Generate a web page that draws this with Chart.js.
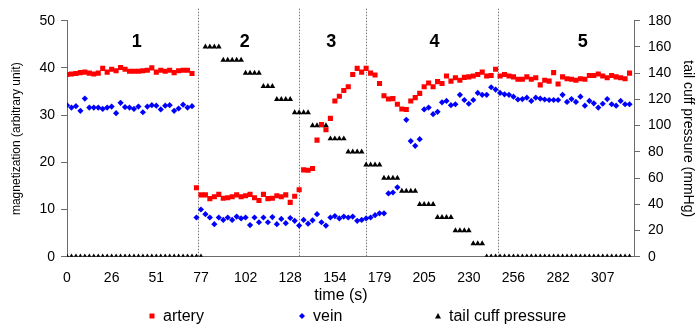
<!DOCTYPE html>
<html>
<head>
<meta charset="utf-8">
<script src="https://cdn.jsdelivr.net/npm/chart.js@4"></script>
<style>
    html, body { margin: 0; padding: 0; background: #fff; }
    #wrap { width: 695px; height: 326px; }
</style>
</head>
<body>
<div id="wrap"><canvas id="chart" width="695" height="326"></canvas></div>
<script>
"use strict"

// Tick labels on the time axis (one label every 10 samples)
const timeTickLabels = ["0", "26", "51", "77", "102", "128", "154", "179", "205", "230", "256", "282", "307"];

// Magnetization of the artery (arbitrary unit), one value per sample
const artery = [
    38.6, 38.7, 38.8, 39.0, 39.1, 38.9, 38.7, 38.9, 39.9, 39.1,
    39.7, 39.4, 40.1, 39.7, 39.3, 39.3, 39.3, 39.4, 39.5, 40.0,
    39.1, 39.5, 39.3, 39.5, 39.0, 39.4, 39.5, 39.5, 38.8,
    14.6, 13.1, 13.1, 12.3, 12.7, 13.2, 12.4, 12.5, 12.7, 13.1,
    12.7, 12.9, 13.2, 12.5, 11.9, 13.2, 12.3, 12.4, 12.9, 12.7,
    13.1, 11.5, 12.8, 14.2,
    18.4, 18.3, 18.7,
    24.7, 28.0, 26.9, 29.3, 33.0, 34.0, 35.2, 36.0, 38.6, 39.9,
    39.1, 39.9, 38.9, 38.5, 36.7, 34.1, 33.4, 33.5, 32.3, 31.3,
    31.2, 33.0, 33.7, 34.6, 36.0, 36.8, 36.0, 37.1, 36.7,
    38.3, 37.2, 37.9, 37.4, 38.0, 38.1, 38.3, 38.6, 39.1, 38.3,
    38.4, 39.7, 38.3, 38.6, 38.3, 38.1, 37.6, 37.6, 38.1, 37.6,
    37.9, 36.4, 37.4, 37.2, 39.0, 36.6, 38.1, 37.7, 37.6, 37.4,
    37.7, 37.6, 38.4, 38.4, 38.7, 38.3, 37.9, 38.4, 38.1, 37.9,
    37.7, 38.9
];

// Magnetization of the vein (arbitrary unit)
const vein = [
    32.1, 31.6, 31.9, 30.9, 33.5, 31.6, 31.6, 31.6, 31.3, 31.6,
    31.8, 30.4, 32.6, 31.7, 31.6, 31.3, 31.8, 30.6, 31.8, 32.1,
    32.0, 31.2, 32.0, 32.1, 30.9, 31.4, 32.2, 31.6, 31.9,
    8.3, 10.0, 9.0, 8.3, 6.9, 8.3, 7.8, 8.3, 7.8, 8.5,
    8.1, 8.3,
    6.7, 8.3, 7.3, 8.3, 7.3, 8.4, 6.9, 8.0, 7.1, 8.2,
    7.6, 6.6, 7.8, 7.0, 7.7, 9.0, 7.3, 6.6, 8.3, 8.6,
    8.1, 8.5, 8.3, 8.5, 7.6, 7.8, 8.1, 8.3, 8.8, 9.2,
    9.2, 13.4, 13.6, 14.7,
    null,
    29.0, 24.5, 23.5, 24.9, 31.2, 31.6, 30.2, 30.7,
    32.7, 33.0, 32.1, 32.3, 34.3, 33.2, 32.4, 33.2, 34.7, 34.3,
    34.3, 35.9, 35.4, 34.7, 34.4, 34.3, 33.9, 33.3, 33.4, 33.7,
    33.0, 33.7, 33.5, 33.3, 33.2, 33.2, 33.2, 34.3, 32.8, 33.4,
    32.8, 33.9, 32.0, 33.0, 32.5, 31.6, 32.4, 33.4, 32.3, 32.0,
    33.0, 32.3, 32.3
];

// Tail cuff pressure (mmHg)
const tailCuffPressure = [
    0, 0, 0, 0, 0, 0, 0, 0, 0, 0,
    0, 0, 0, 0, 0, 0, 0, 0, 0, 0,
    0, 0, 0, 0, 0, 0, 0, 0, 0, 0,
    0,
    160, 160, 160, 160,
    150, 150, 150, 150, 150,
    140, 140, 140, 140,
    130, 130, 130,
    120, 120, 120, 120,
    110, 110, 110, 110,
    100, 100, 100, 100,
    90, 90, 90, 90,
    80, 80, 80, 80,
    70, 70, 70, 70,
    60, 60, 60, 60,
    50, 50, 50, 50,
    40, 40, 40, 40,
    30, 30, 30, 30,
    20, 20, 20, 20,
    10, 10, 10,
    0, 0, 0, 0, 0, 0, 0, 0, 0, 0,
    0, 0, 0, 0, 0, 0, 0, 0, 0, 0,
    0, 0, 0, 0, 0, 0, 0, 0, 0, 0,
    0, 0, 0
];

// Phase boundaries (sample index) and phase names
const phaseBoundaries = [29.3, 51.9, 67.0, 96.5];
const phaseNames = ["1", "2", "3", "4", "5"];
const phaseNameAt = [15.6, 39.8, 59.2, 82.3, 115.5];

const RED = "#ff0000";
const BLUE = "#0000ff";
const BLACK = "#000000";
const AXIS = "#6b6b6b";
const FONT = "'Liberation Sans', Arial, sans-serif";

Chart.defaults.font.family = FONT;
Chart.defaults.color = "#000";

function ToPoints(values) {
    let points = [];
    for (let i = 0; i < values.length; i++) {
        if (values[i] !== null) points.push({ x: i, y: values[i] });
    }
    return points;
}

function DrawMarker(ctx, style, x, y, color) {
    ctx.fillStyle = color;
    ctx.beginPath();
    if (style === "rect") {
        ctx.rect(x - 2.5, y - 2.5, 5, 5);
    } else if (style === "rectRot") {
        ctx.moveTo(x, y - 3);
        ctx.lineTo(x + 3, y);
        ctx.lineTo(x, y + 3);
        ctx.lineTo(x - 3, y);
    } else {
        ctx.moveTo(x, y - 3);
        ctx.lineTo(x + 3, y + 2.5);
        ctx.lineTo(x - 3, y + 2.5);
    }
    ctx.closePath();
    ctx.fill();
}

// Dotted phase lines, phase numbers, x title and the legend
const phaseOverlay = {
    id: "phaseOverlay",
    beforeDatasetsDraw(chart) {
        const { ctx, chartArea, scales: { x } } = chart;
        ctx.save();
        ctx.strokeStyle = "#777";
        ctx.lineWidth = 1;
        ctx.setLineDash([1.5, 1.5]);
        phaseBoundaries.forEach(b => {
            let px = Math.round(x.getPixelForValue(b)) + 0.5;
            ctx.beginPath();
            ctx.moveTo(px, chartArea.top - 12);
            ctx.lineTo(px, chartArea.bottom);
            ctx.stroke();
        });
        ctx.restore();
    },
    afterDraw(chart) {
        const { ctx, scales: { x, y } } = chart;
        ctx.save();
        ctx.fillStyle = "#000";
        ctx.font = "bold 18px " + FONT;
        ctx.textAlign = "center";
        ctx.textBaseline = "middle";
        phaseNames.forEach((name, i) => {
            ctx.fillText(name, x.getPixelForValue(phaseNameAt[i]), y.getPixelForValue(45.5));
        });

        // Axis title under the time axis
        ctx.font = "16px " + FONT;
        ctx.fillText("time (s)", 341, 296);

        // Legend
        const legendY = 316;
        const items = [
            { text: "artery", style: "rect", color: RED, at: 152 },
            { text: "vein", style: "rectRot", color: BLUE, at: 302 },
            { text: "tail cuff pressure", style: "triangle", color: BLACK, at: 438 }
        ];
        ctx.textAlign = "left";
        items.forEach(item => {
            DrawMarker(ctx, item.style, item.at, legendY, item.color);
            ctx.fillStyle = "#000";
            ctx.fillText(item.text, item.at + 11, legendY + 1);
        });
        ctx.restore();
    }
};

new Chart(document.getElementById("chart"), {
    type: "scatter",
    data: {
        datasets: [
            {
                label: "artery",
                data: ToPoints(artery),
                yAxisID: "y",
                pointStyle: "rect",
                pointRadius: 3.6,
                pointBorderWidth: 0,
                backgroundColor: RED,
                borderColor: RED
            },
            {
                label: "vein",
                data: ToPoints(vein),
                yAxisID: "y",
                pointStyle: "rectRot",
                pointRadius: 3.1,
                pointBorderWidth: 0,
                backgroundColor: BLUE,
                borderColor: BLUE
            },
            {
                label: "tail cuff pressure",
                data: ToPoints(tailCuffPressure),
                yAxisID: "y2",
                pointStyle: "triangle",
                pointRadius: 3.3,
                pointBorderWidth: 0,
                backgroundColor: BLACK,
                borderColor: BLACK
            }
        ]
    },
    options: {
        responsive: false,
        animation: false,
        layout: { padding: { top: 20.7, bottom: 21, left: 0, right: 0 } },
        plugins: {
            legend: { display: false },
            tooltip: { enabled: false }
        },
        scales: {
            x: {
                type: "linear",
                min: 0,
                max: 127,
                grid: { display: false, drawTicks: false },
                border: { display: true, color: AXIS, width: 1 },
                ticks: {
                    stepSize: 10,
                    includeBounds: false,
                    autoSkip: false,
                    maxRotation: 0,
                    padding: 13,
                    font: { size: 14 },
                    callback: (v) => timeTickLabels[v / 10]
                },
                title: { display: false },
                afterFit(scale) { scale.height = 48.3; }
            },
            y: {
                position: "left",
                min: 0,
                max: 50,
                grid: { drawOnChartArea: false, drawTicks: true, tickLength: 6, color: AXIS },
                border: { display: true, color: AXIS, width: 1 },
                ticks: { stepSize: 10, padding: 6, font: { size: 14 } },
                title: {
                    display: true,
                    text: "magnetization (arbitrary unit)",
                    font: { size: 12 },
                    padding: { top: 9, bottom: 0 }
                },
                afterFit(scale) { scale.width = 67; }
            },
            y2: {
                position: "right",
                min: 0,
                max: 180,
                grid: { drawOnChartArea: false, drawTicks: true, tickLength: 6, color: AXIS },
                border: { display: true, color: AXIS, width: 1 },
                ticks: { stepSize: 20, padding: 8, font: { size: 14 } },
                title: {
                    display: true,
                    text: "tail cuff pressure (mmHg)",
                    font: { size: 14, lineHeight: 1 },
                    padding: { top: 0, bottom: 0 }
                },
                afterFit(scale) { scale.width = 61; }
            }
        }
    },
    plugins: [phaseOverlay]
});
</script>
</body>
</html>
